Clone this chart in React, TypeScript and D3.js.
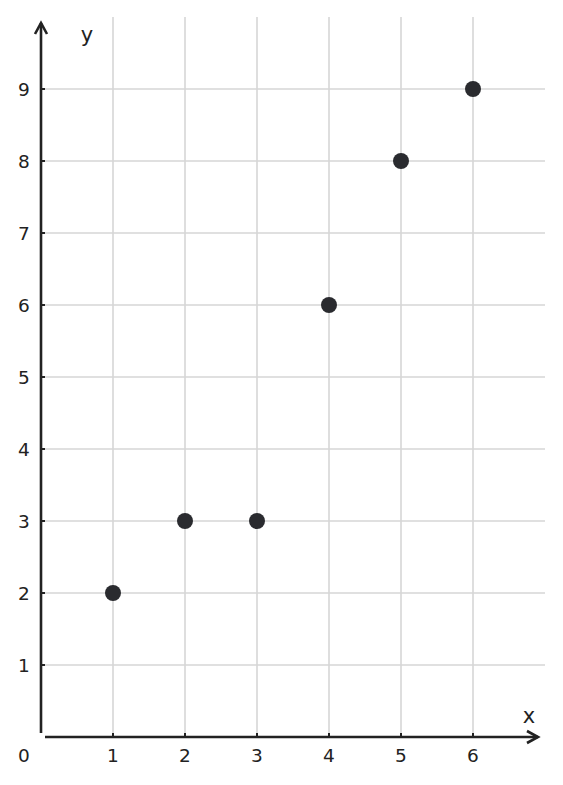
import React from "react";
import * as d3 from "d3";

const xValues = [1, 2, 3, 4, 5, 6];
const yValues = [2, 3, 3, 6, 8, 9];
const xTicks = [1, 2, 3, 4, 5, 6];
const yTicks = [1, 2, 3, 4, 5, 6, 7, 8, 9];

const W = 563;
const H = 785;
const FONT = "DejaVu Sans, sans-serif";

export default function App() {
  const x = d3.scaleLinear().domain([0, 7]).range([41, 545]);
  const y = d3.scaleLinear().domain([0, 10]).range([737, 17]);
  const axisColor = "#222222";
  const gridColor = "#d6d6d6";
  const x0 = x(0);
  const y0 = y(0);
  const xEnd = 538;
  const yTop = 23;
  return (
    <svg
      width={W}
      height={H}
      style={{ position: "absolute", left: 0, top: 0, background: "#fff" }}
      fontFamily={FONT}
    >
      <rect width={W} height={H} fill="#fff" />
      {/* grid */}
      {xTicks.map((t) => (
        <line key={"gx" + t} x1={x(t)} x2={x(t)} y1={y(10)} y2={y0} stroke={gridColor} strokeWidth={1.6} />
      ))}
      {yTicks.map((t) => (
        <line key={"gy" + t} x1={x0} x2={x(7)} y1={y(t)} y2={y(t)} stroke={gridColor} strokeWidth={1.6} />
      ))}
      {/* axes */}
      <line x1={x0 + 4} x2={xEnd} y1={y0} y2={y0} stroke={axisColor} strokeWidth={2.6} />
      <polyline
        points={`${xEnd - 11},${y0 - 6} ${xEnd},${y0} ${xEnd - 11},${y0 + 6}`}
        fill="none"
        stroke={axisColor}
        strokeWidth={2.6}
      />
      <line x1={x0} x2={x0} y1={y0 - 4} y2={yTop} stroke={axisColor} strokeWidth={2.6} />
      <polyline
        points={`${x0 - 6},${yTop + 11} ${x0},${yTop} ${x0 + 6},${yTop + 11}`}
        fill="none"
        stroke={axisColor}
        strokeWidth={2.6}
      />
      {/* tick stubs */}
      {xTicks.map((t) => (
        <line key={"tx" + t} x1={x(t)} x2={x(t)} y1={y0} y2={y0 - 4} stroke={axisColor} strokeWidth={2} />
      ))}
      {yTicks.map((t) => (
        <line key={"ty" + t} x1={x0} x2={x0 + 4} y1={y(t)} y2={y(t)} stroke={axisColor} strokeWidth={2} />
      ))}
      {/* tick labels */}
      {xTicks.map((t) => (
        <text key={"lx" + t} x={x(t)} y={762} textAnchor="middle" fontSize={18.5} fill="#222">
          {t}
        </text>
      ))}
      {yTicks.map((t) => (
        <text key={"ly" + t} x={24} y={y(t) + 7} textAnchor="middle" fontSize={18.5} fill="#222">
          {t}
        </text>
      ))}
      <text x={24} y={762} textAnchor="middle" fontSize={18.5} fill="#222">0</text>
      <text x={87} y={42} textAnchor="middle" fontSize={21} fill="#222">y</text>
      <text x={529} y={723} textAnchor="middle" fontSize={21} fill="#222">x</text>
      {/* points */}
      {xValues.map((v, i) => (
        <circle key={"p" + i} cx={x(v)} cy={y(yValues[i])} r={8} fill="#2a2b2f" />
      ))}
    </svg>
  );
}
